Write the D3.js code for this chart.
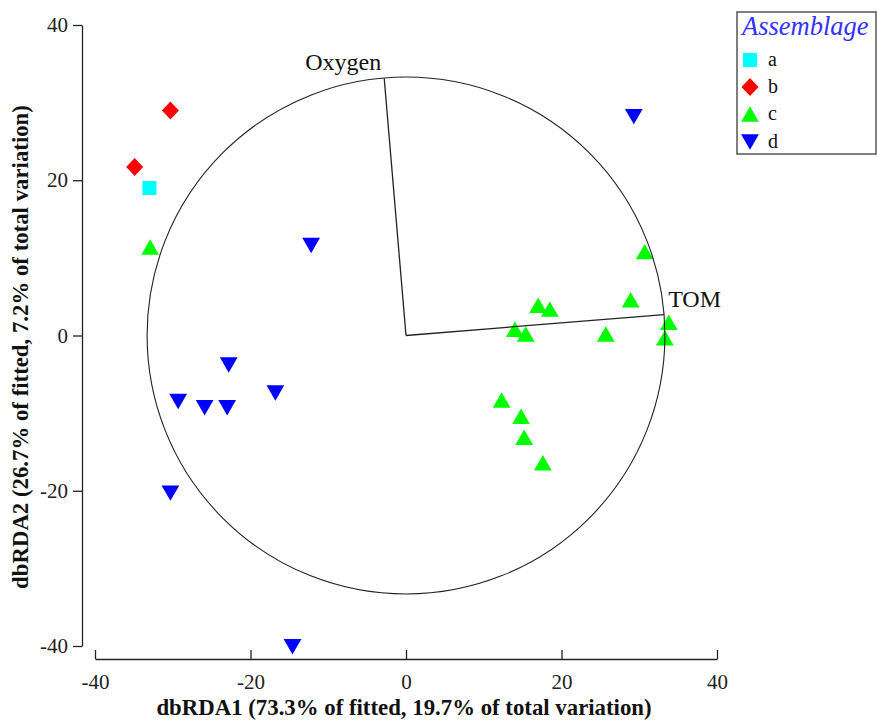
<!DOCTYPE html>
<html><head><meta charset="utf-8">
<script src="https://cdn.jsdelivr.net/npm/d3@7"></script>
<style>body{margin:0;background:#fff;}svg{display:block;}</style>
</head><body>
<script>
// ---- data ----
const groups = ["a", "b", "c", "d"];
const groupColors = ["#00ffff", "#ff0000", "#00ff00", "#0000ff"];
const groupShapes = ["square", "diamond", "triUp", "triDown"];
const aX = [-33.0];
const aY = [19.0];
const bX = [-34.9, -30.3];
const bY = [21.7, 29.0];
const cX = [-32.9, 14.0, 15.4, 17.0, 18.5, 25.7, 28.9, 30.7, 33.8, 33.3, 12.3, 14.8, 15.2, 17.6];
const cY = [11.4, 0.8, 0.2, 3.9, 3.4, 0.2, 4.6, 10.8, 1.7, -0.3, -8.3, -10.4, -13.1, -16.4];
const dX = [29.3, -12.2, -22.8, -16.8, -29.3, -25.9, -23.0, -30.3, -14.6];
const dY = [28.2, 11.6, -3.8, -7.4, -8.5, -9.3, -9.3, -20.3, -40.1];
const vectorNames = ["Oxygen", "TOM"];
const vectorX = [-2.8, 33.2];
const vectorY = [33.1, 2.7];
const circleRadius = 33.3;
const xTicks = [-40, -20, 0, 20, 40];
const yTicks = [-40, -20, 0, 20, 40];
const xTitle = "dbRDA1 (73.3% of fitted, 19.7% of total variation)";
const yTitle = "dbRDA2 (26.7% of fitted, 7.2% of total variation)";
const legendTitle = "Assemblage";

const W = 877, H = 721;
const svg = d3.select("body").append("svg").attr("width", W).attr("height", H);
const x = d3.scaleLinear().domain([-40, 40]).range([95, 717]);
const y = d3.scaleLinear().domain([-40, 40]).range([646, 25]);
const serif = "'Liberation Serif','Times New Roman',serif";

function shapePath(kind) {
  switch (kind) {
    case "square": return "M-7,-7h14v14h-14Z";
    case "diamond": return "M0,-9L8.5,0L0,9L-8.5,0Z";
    case "triUp": return "M0,-7.7L8.9,7.7L-8.9,7.7Z";
    case "triDown": return "M0,7.7L8.9,-7.7L-8.9,-7.7Z";
  }
}

// axes
const fmt = d => String(d);
const yAxis = d3.axisLeft(y).tickValues(yTicks).tickFormat(fmt).tickSize(9).tickSizeOuter(0).tickPadding(5);
const gy = svg.append("g").attr("transform", "translate(82,0)").call(yAxis);
const xAxis = d3.axisBottom(x).tickValues(xTicks).tickFormat(fmt).tickSize(-9).tickSizeOuter(0).tickPadding(15);
const gx = svg.append("g").attr("transform", "translate(0,659)").call(xAxis);
[gx, gy].forEach(g => {
  g.selectAll("text").style("font-family", serif).style("font-size", "21px").attr("fill", "#222");
  g.selectAll("line,path").attr("stroke", "#222").attr("stroke-width", 1.3);
});

// points
const allSets = [[aX, aY], [bX, bY], [cX, cY], [dX, dY]];
allSets.forEach((s, gi) => {
  const pts = s[0].map((v, i) => [v, s[1][i]]);
  svg.append("g").selectAll("path").data(pts).join("path")
    .attr("d", shapePath(groupShapes[gi]))
    .attr("transform", d => `translate(${x(d[0])},${y(d[1])})`)
    .attr("fill", groupColors[gi]);
});

// circle
svg.append("ellipse")
  .attr("cx", x(0)).attr("cy", y(0))
  .attr("rx", x(circleRadius) - x(0)).attr("ry", y(0) - y(circleRadius))
  .attr("fill", "none").attr("stroke", "#222").attr("stroke-width", 1.1);

// vectors
vectorNames.forEach((n, i) => {
  svg.append("line")
    .attr("x1", x(0)).attr("y1", y(0))
    .attr("x2", x(vectorX[i])).attr("y2", y(vectorY[i]))
    .attr("stroke", "#222").attr("stroke-width", 1.3);
});
svg.append("text").attr("x", x(vectorX[0]) - 3).attr("y", y(vectorY[0]) - 9)
  .attr("text-anchor", "end").style("font-family", serif).style("font-size", "24px")
  .attr("fill", "#111").text(vectorNames[0]);
svg.append("text").attr("x", x(vectorX[1]) + 4).attr("y", y(vectorY[1]) - 8)
  .attr("text-anchor", "start").style("font-family", serif).style("font-size", "24px")
  .attr("fill", "#111").text(vectorNames[1]);

// axis titles
svg.append("text").attr("x", 404).attr("y", 715).attr("text-anchor", "middle")
  .style("font-family", serif).style("font-size", "22.8px").style("font-weight", "bold")
  .attr("fill", "#111").text(xTitle);
svg.append("text").attr("transform", "translate(28,347) rotate(-90)").attr("text-anchor", "middle")
  .style("font-family", serif).style("font-size", "22.8px").style("font-weight", "bold")
  .attr("fill", "#111").text(yTitle);

// legend
const lg = svg.append("g");
lg.append("rect").attr("x", 737).attr("y", 12).attr("width", 139).attr("height", 142)
  .attr("fill", "#fff").attr("stroke", "#555").attr("stroke-width", 1.5);
lg.append("text").attr("x", 742).attr("y", 35)
  .style("font-family", serif).style("font-size", "26.5px").style("font-style", "italic")
  .attr("fill", "#3333ff").text(legendTitle);
const legendY = [60, 87, 114, 142];
groups.forEach((g, i) => {
  lg.append("path").attr("d", shapePath(groupShapes[i]))
    .attr("transform", `translate(750,${legendY[i]})`).attr("fill", groupColors[i]);
  lg.append("text").attr("x", 768).attr("y", legendY[i] + 6)
    .style("font-family", serif).style("font-size", "20px").attr("fill", "#111").text(g);
});
</script>
</body></html>
